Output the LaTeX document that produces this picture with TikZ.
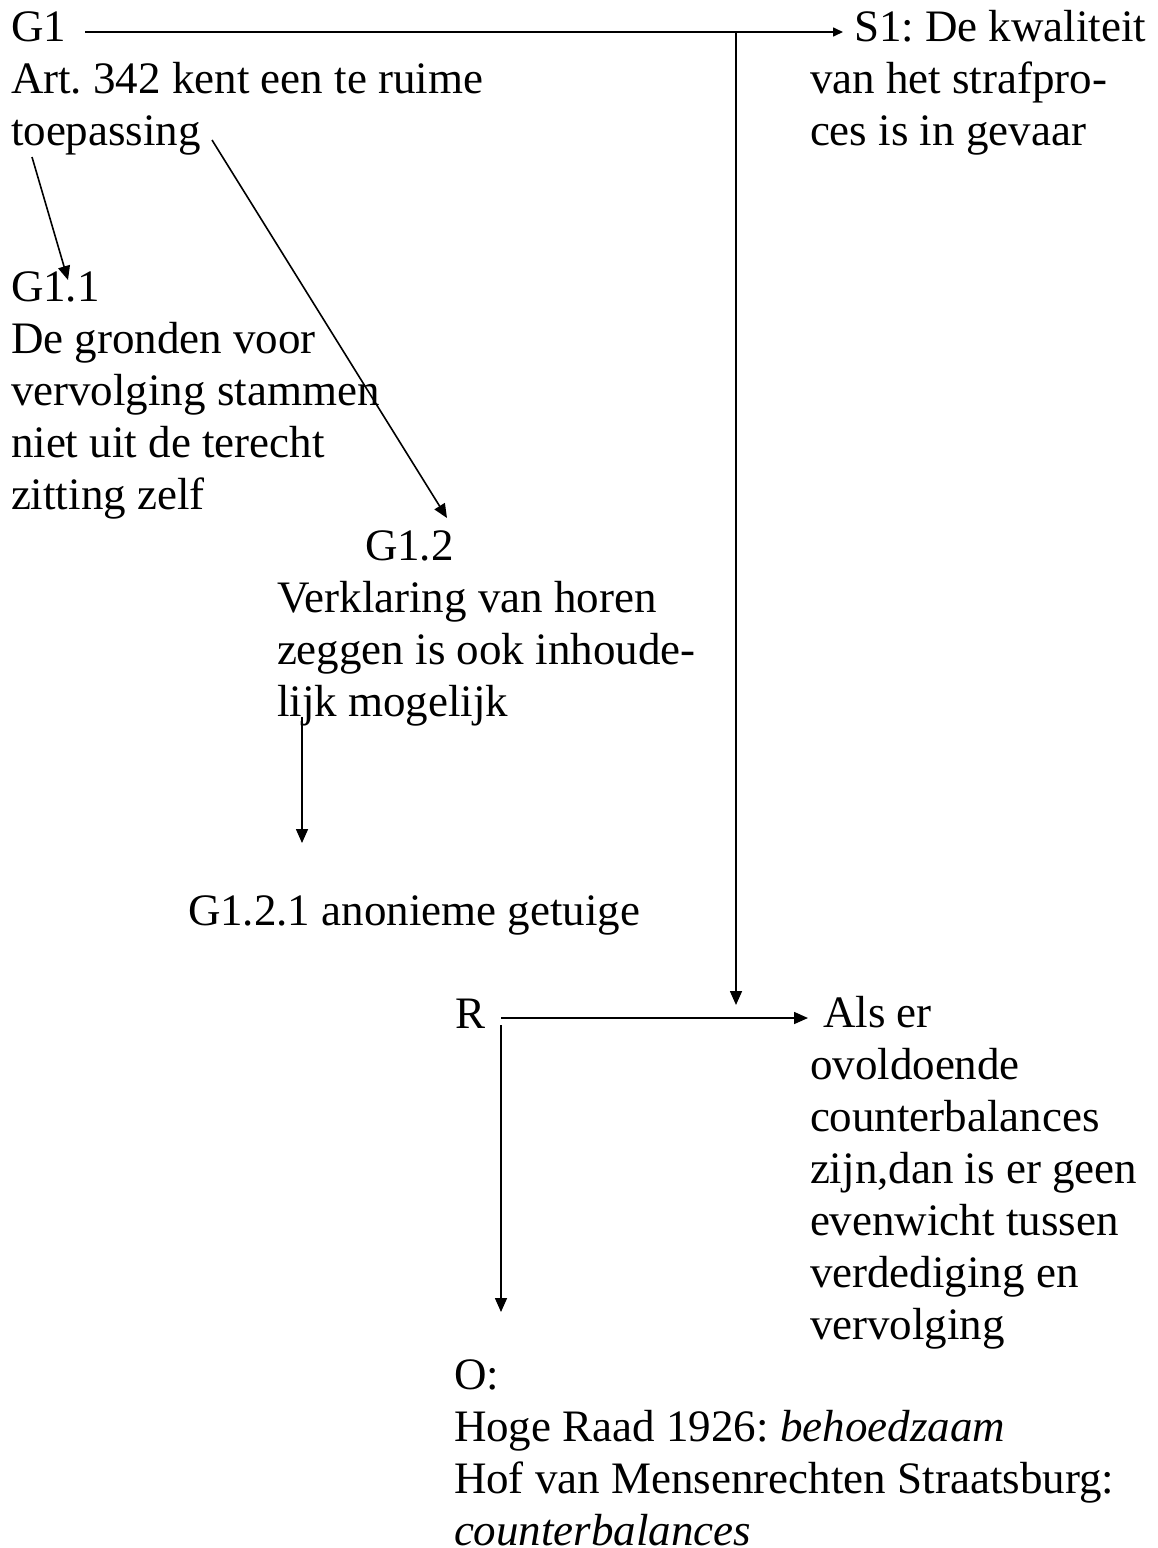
\documentclass[tikz,border=0pt]{standalone}
\usepackage{fontspec}
\setmainfont{Liberation Serif}
\usetikzlibrary{arrows.meta}
\frenchspacing
% invisible strut that fixes the top of each block 42pt above its first baseline
\newcommand\firstline{\rule{0pt}{42pt}}
\begin{document}
\begin{tikzpicture}[x=1pt,y=-1pt,
  txt/.style={anchor=north west,inner sep=0pt,outer sep=0pt,align=left,
    font=\fontsize{45pt}{52pt}\selectfont},
  wire/.style={line width=1.6pt},
  link/.style={wire,-{Triangle[length=14pt,width=12pt]}},
  smalllink/.style={wire,-{Triangle[length=10pt,width=9pt]}}]
\useasboundingbox (0,0) rectangle (1157,1548);

% text blocks, placed by the baseline of their first line (baseline - 42)
\node[txt] (g1)   at (11,-1)    {\firstline G1\\Art. 342 kent een te ruime\\toepassing};
\node[txt] (s1)   at (810,-1)   {\firstline\hspace*{44pt}S1: De kwaliteit\\van het strafpro-\\ces is in gevaar};
\node[txt] (g11)  at (11,259)   {\firstline G1.1\\De gronden voor\\vervolging stammen\\niet uit de terecht\\zitting zelf};
\node[txt] (g12)  at (277,518)  {\firstline\hspace*{88pt}G1.2\\Verklaring van horen\\zeggen is ook inhoude-\\lijk mogelijk};
\node[txt] (g121) at (188,883)  {\firstline G1.2.1 anonieme getuige};
\node[txt] (r)    at (455,986)  {\firstline R};
\node[txt] (als)  at (810,985)  {\firstline\hspace*{13pt}Als er\\ovoldoende\\counterbalances\\zijn,dan is er geen\\evenwicht tussen\\verdediging en\\vervolging};
\node[txt] (o)    at (454,1347) {\firstline O:\\Hoge Raad 1926: \textit{behoedzaam}\\Hof van Mensenrechten Straatsburg:\\\textit{counterbalances}};

% connector end points
\coordinate (g1out)   at (85,32);
\coordinate (split)   at (736,32);
\coordinate (s1in)    at (843,32);
\coordinate (alsdrop) at (736,1005);
\coordinate (g1a)     at (32,157);
\coordinate (g11in)   at (68,280);
\coordinate (g1b)     at (212,140);
\coordinate (g12in)   at (447,518);
\coordinate (g12out)  at (302,717);
\coordinate (g121in)  at (302,843);
\coordinate (rout)    at (501,1018);
\coordinate (alsin)   at (808,1018);
\coordinate (rdown)   at (501,1025);
\coordinate (oin)     at (501,1312);

% connectors
\draw[smalllink] (g1out) -- (s1in);
\draw[link] (split) -- (alsdrop);
\draw[link] (g1a) -- (g11in);
\draw[link] (g1b) -- (g12in);
\draw[link] (g12out) -- (g121in);
\draw[link] (rout) -- (alsin);
\draw[link] (rdown) -- (oin);
\end{tikzpicture}
\end{document}
